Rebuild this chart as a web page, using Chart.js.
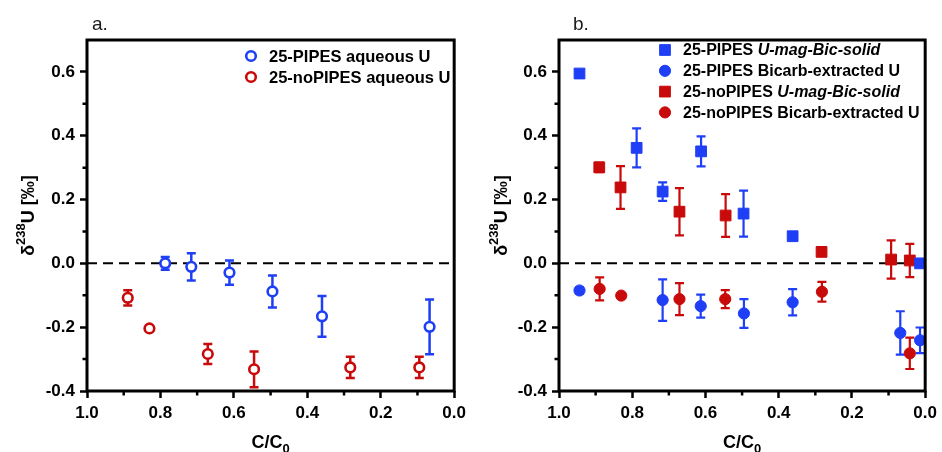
<!DOCTYPE html>
<html>
<head>
<meta charset="utf-8">
<script src="https://cdn.jsdelivr.net/npm/chart.js@4/dist/chart.umd.min.js"></script>
<style>
  html, body { margin: 0; padding: 0; background: #fff; }
  .panel { position: absolute; top: 0; width: 471px; height: 452px; }
  #pa { left: 0; }
  #pb { left: 471px; }
</style>
</head>
<body>
<div class="panel" id="pa"><canvas id="chartA" width="471" height="452"></canvas></div>
<div class="panel" id="pb"><canvas id="chartB" width="471" height="452"></canvas></div>
<script>
// ---- data ----
// panel a: aqueous U
var xPipesAq = [0.787, 0.716, 0.612, 0.495, 0.360, 0.067];
var yPipesAq = [0.000, -0.011, -0.029, -0.088, -0.166, -0.199];
var ePipesAq = [0.020, 0.043, 0.038, 0.050, 0.064, 0.086];

var xNoPipesAq = [0.889, 0.830, 0.671, 0.545, 0.283, 0.095];
var yNoPipesAq = [-0.108, -0.204, -0.284, -0.332, -0.326, -0.326];
var eNoPipesAq = [0.024, 0.006, 0.031, 0.056, 0.033, 0.033];

// panel b: solids and bicarb-extracted U
var xPipesSolid = [0.944, 0.788, 0.717, 0.612, 0.496, 0.362, 0.014];
var yPipesSolid = [0.595, 0.362, 0.225, 0.351, 0.156, 0.085, 0.000];
var ePipesSolid = [0.010, 0.061, 0.029, 0.047, 0.072, 0.008, 0.004];

var xPipesBic = [0.944, 0.717, 0.613, 0.495, 0.362, 0.068, 0.014];
var yPipesBic = [-0.085, -0.115, -0.134, -0.157, -0.122, -0.218, -0.241];
var ePipesBic = [0.010, 0.065, 0.036, 0.045, 0.041, 0.068, 0.040];

var xNoPipesSolid = [0.890, 0.832, 0.671, 0.545, 0.283, 0.093, 0.042];
var yNoPipesSolid = [0.301, 0.238, 0.162, 0.150, 0.036, 0.012, 0.009];
var eNoPipesSolid = [0.015, 0.067, 0.074, 0.067, 0.007, 0.060, 0.052];

var xNoPipesBic = [0.889, 0.830, 0.671, 0.546, 0.282, 0.042];
var yNoPipesBic = [-0.080, -0.101, -0.112, -0.112, -0.089, -0.282];
var eNoPipesBic = [0.036, 0.005, 0.050, 0.028, 0.031, 0.049];

// axes
var xTicks = [1.0, 0.8, 0.6, 0.4, 0.2, 0.0];
var xMinor = [0.9, 0.7, 0.5, 0.3, 0.1];
var yTicks = [-0.4, -0.2, 0.0, 0.2, 0.4, 0.6];
var yMinor = [-0.3, -0.1, 0.1, 0.3, 0.5];

// legend labels (*...* = italic)
var legendA = ['25-PIPES aqueous U', '25-noPIPES aqueous U'];
var legendB = ['25-PIPES *U-mag-Bic-solid*', '25-PIPES Bicarb-extracted U',
               '25-noPIPES *U-mag-Bic-solid*', '25-noPIPES Bicarb-extracted U'];

var BLUE = '#1f3ff6';
var RED = '#c80a0a';
var FONT = '"Liberation Sans", Arial, Helvetica, sans-serif';

function pts(xs, ys) {
  return xs.map(function (x, i) { return { x: x, y: ys[i] }; });
}

function markerSet(label, xs, ys, es, color, style, radius, hollow) {
  return {
    label: label,
    data: pts(xs, ys),
    errors: es,
    pointStyle: style,
    pointRadius: radius,
    pointHoverRadius: radius,
    pointBorderWidth: hollow ? 2.6 : 1,
    pointHoverBorderWidth: hollow ? 2.6 : 1,
    borderColor: color,
    backgroundColor: hollow ? '#ffffff' : color,
    showLine: false
  };
}

function drawMarker(ctx, ds, x, y) {
  ctx.fillStyle = ds.backgroundColor;
  ctx.strokeStyle = ds.borderColor;
  ctx.lineWidth = ds.pointBorderWidth;
  Chart.helpers.drawPoint(ctx, {
    pointStyle: ds.pointStyle, radius: ds.pointRadius,
    borderWidth: ds.pointBorderWidth, rotation: 0
  }, x, y);
}

// frame, minor ticks, zero line, error bars, titles and legend
var decor = {
  id: 'decor',
  beforeDatasetsDraw: function (chart, args, o) {
    var ctx = chart.ctx, a = chart.chartArea, ys = chart.scales.y;
    ctx.save();
    ctx.strokeStyle = '#000';
    ctx.lineWidth = 2;
    ctx.setLineDash([10, 6]);
    var y0 = ys.getPixelForValue(0);
    ctx.beginPath(); ctx.moveTo(a.left, y0); ctx.lineTo(a.right, y0); ctx.stroke();
    ctx.setLineDash([]);

    chart.data.datasets.forEach(function (ds, di) {
      var meta = chart.getDatasetMeta(di);
      ctx.strokeStyle = ds.borderColor;
      ctx.lineWidth = o.barWidth;
      meta.data.forEach(function (el, i) {
        var p = ds.data[i], e = ds.errors[i];
        var top = ys.getPixelForValue(p.y + e), bot = ys.getPixelForValue(p.y - e);
        ctx.beginPath();
        ctx.moveTo(el.x, top); ctx.lineTo(el.x, bot);
        ctx.moveTo(el.x - o.cap, top); ctx.lineTo(el.x + o.cap, top);
        ctx.moveTo(el.x - o.cap, bot); ctx.lineTo(el.x + o.cap, bot);
        ctx.stroke();
      });
    });
    ctx.restore();
  },
  afterDraw: function (chart, args, o) {
    var ctx = chart.ctx, a = chart.chartArea, xs = chart.scales.x, ys = chart.scales.y;
    ctx.save();
    // frame
    ctx.strokeStyle = '#000';
    ctx.lineWidth = 3;
    ctx.strokeRect(a.left, a.top, a.right - a.left, a.bottom - a.top);
    // minor ticks
    ctx.lineWidth = 2.5;
    ctx.beginPath();
    xMinor.forEach(function (v) {
      var px = xs.getPixelForValue(v);
      ctx.moveTo(px, a.bottom); ctx.lineTo(px, a.bottom + 4.5);
    });
    yMinor.forEach(function (v) {
      var py = ys.getPixelForValue(v);
      ctx.moveTo(a.left, py); ctx.lineTo(a.left - 4.5, py);
    });
    ctx.stroke();

    ctx.fillStyle = '#000';
    ctx.textBaseline = 'alphabetic';
    // x title: C/C0
    var big = 'bold 18px ' + FONT, small = 'bold 13px ' + FONT;
    ctx.font = big;
    var w1 = ctx.measureText('C/C').width;
    ctx.font = small;
    var w2 = ctx.measureText('0').width;
    var cx = (a.left + a.right) / 2 - (w1 + w2) / 2;
    ctx.font = big; ctx.textAlign = 'left';
    ctx.fillText('C/C', cx, 448);
    ctx.font = small;
    ctx.fillText('0', cx + w1, 453);

    // y title: δ238U [‰]
    ctx.save();
    ctx.translate(o.yTitleX, (a.top + a.bottom) / 2);
    ctx.rotate(-Math.PI / 2);
    ctx.font = big;
    var wd = ctx.measureText('\u03b4').width;
    var wu = ctx.measureText('U [\u2030]').width;
    ctx.font = small;
    var ws = ctx.measureText('238').width;
    var sx = -(wd + ws + wu) / 2;
    ctx.font = big;
    ctx.fillText('\u03b4', sx, 7);
    ctx.font = small;
    ctx.fillText('238', sx + wd, -2);
    ctx.font = big;
    ctx.fillText('U [\u2030]', sx + wd + ws, 7);
    ctx.restore();

    // panel label
    ctx.fillStyle = '#1a1a1a';
    ctx.font = '19px ' + FONT;
    ctx.fillText(o.panel, o.panelX, 30);

    // legend
    chart.data.datasets.forEach(function (ds, i) {
      var ly = o.legendY + i * o.legendStep;
      drawMarker(ctx, ds, o.legendMarkerX, ly);
      var parts = o.labels[i].split('*');
      var tx = o.legendTextX;
      ctx.fillStyle = '#000';
      ctx.textBaseline = 'middle';
      parts.forEach(function (s, k) {
        if (!s) return;
        ctx.font = (k % 2 ? 'italic bold ' : 'bold ') + o.legendSize + 'px ' + FONT;
        ctx.fillText(s, tx, ly + 1);
        tx += ctx.measureText(s).width;
      });
    });
    ctx.restore();
  }
};
Chart.register(decor);

function makeOptions(yWidth, padRight, plug) {
  var tickFont = { family: FONT, size: 17, weight: 'bold' };
  return {
    responsive: false,
    animation: false,
    events: [],
    layout: { padding: { top: 40, right: padRight, left: 0, bottom: 0 } },
    plugins: { legend: { display: false }, tooltip: { enabled: false }, decor: plug },
    scales: {
      x: {
        type: 'linear', min: 0, max: 1, reverse: true,
        afterBuildTicks: function (s) { s.ticks = xTicks.map(function (v) { return { value: v }; }); },
        afterFit: function (s) { s.height = 61; },
        grid: { display: true, drawOnChartArea: false, drawTicks: true, tickLength: 7, tickWidth: 2.5, tickColor: '#000' },
        border: { display: false },
        ticks: { font: tickFont, color: '#000', padding: 5, maxRotation: 0,
                 callback: function (v) { return Number(v).toFixed(1); } }
      },
      y: {
        type: 'linear', min: -0.4, max: 0.7,
        afterBuildTicks: function (s) { s.ticks = yTicks.map(function (v) { return { value: v }; }); },
        afterFit: function (s) { s.width = yWidth; },
        grid: { display: true, drawOnChartArea: false, drawTicks: true, tickLength: 7, tickWidth: 2.5, tickColor: '#000' },
        border: { display: false },
        ticks: { font: tickFont, color: '#000', padding: 5,
                 callback: function (v) { return Number(v).toFixed(1); } }
      }
    }
  };
}

new Chart(document.getElementById('chartA'), {
  type: 'scatter',
  data: {
    datasets: [
      markerSet(legendA[0], xPipesAq, yPipesAq, ePipesAq, BLUE, 'circle', 4.8, true),
      markerSet(legendA[1], xNoPipesAq, yNoPipesAq, eNoPipesAq, RED, 'circle', 4.8, true)
    ]
  },
  options: makeOptions(87, 13, {
    panel: 'a.', panelX: 92, yTitleX: 27, barWidth: 2.5, cap: 4.5, legendSize: 16.5,
    labels: legendA, legendMarkerX: 251, legendTextX: 269, legendY: 56, legendStep: 21
  })
});

new Chart(document.getElementById('chartB'), {
  type: 'scatter',
  data: {
    datasets: [
      markerSet(legendB[0], xPipesSolid, yPipesSolid, ePipesSolid, BLUE, 'rect', 7.6, false),
      markerSet(legendB[1], xPipesBic, yPipesBic, ePipesBic, BLUE, 'circle', 5.6, false),
      markerSet(legendB[2], xNoPipesSolid, yNoPipesSolid, eNoPipesSolid, RED, 'rect', 7.6, false),
      markerSet(legendB[3], xNoPipesBic, yNoPipesBic, eNoPipesBic, RED, 'circle', 5.6, false)
    ]
  },
  options: makeOptions(88, 12, {
    panel: 'b.', panelX: 102, yTitleX: 29, barWidth: 2.2, cap: 4.5, legendSize: 16,
    labels: legendB, legendMarkerX: 194, legendTextX: 212, legendY: 50, legendStep: 20.8
  })
});
</script>
</body>
</html>
